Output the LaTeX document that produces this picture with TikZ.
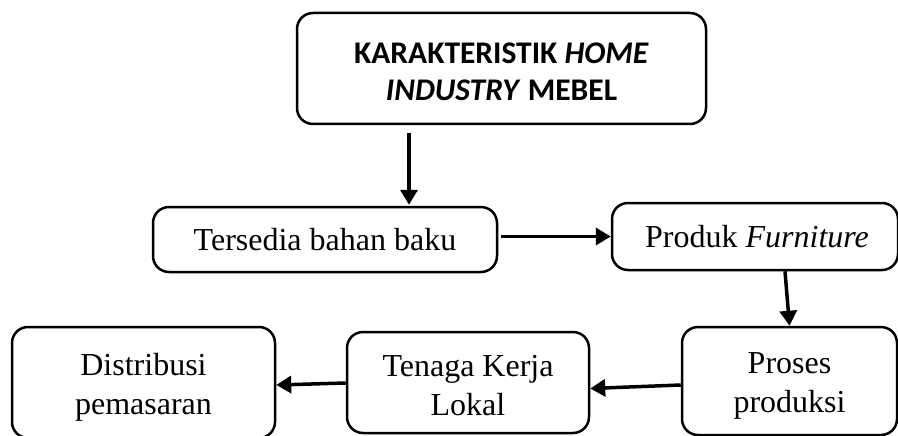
\documentclass[tikz,border=0pt]{standalone}
\usepackage{fontspec}
\setmainfont{Liberation Serif}
\newfontfamily\carlito{Carlito}
\usetikzlibrary{arrows.meta}
\begin{document}
\begin{tikzpicture}[x=1pt,y=-1pt,
  boxstyle/.style={draw=black,line width=2.5pt,rounded corners=16pt,inner sep=0pt},
  txt/.style={align=center,inner sep=0pt,font=\fontsize{32}{38.5}\selectfont},
  arr/.style={line width=3.5pt,-{Triangle[length=15pt,width=17pt]}}]
\useasboundingbox (0,0) rectangle (898,436);
\begin{scope}
\clip (0,0) rectangle (898,436);
\node[boxstyle,minimum width=409pt,minimum height=111pt] (top) at (501.5,68.5) {};
\node[boxstyle,minimum width=344pt,minimum height=65pt] (b2) at (325,239.5) {};
\node[boxstyle,minimum width=286pt,minimum height=67pt] (b3) at (755,236.5) {};
\node[boxstyle,minimum width=215pt,minimum height=108pt] (b4) at (789.5,381) {};
\node[boxstyle,minimum width=242pt,minimum height=101pt] (tk) at (468,382.5) {};
\node[boxstyle,minimum width=263pt,minimum height=111pt] (ds) at (143.5,382.5) {};
\end{scope}
\node[txt,font=\carlito\bfseries\fontsize{31.5}{37}\selectfont] (toptxt) at ([yshift=-3pt]top.center)
  {KARAKTERISTIK \textit{HOME}\\\textit{INDUSTRY} MEBEL};
\node[txt] (b2txt) at (b2.center) {Tersedia bahan baku};
\node[txt] (b3txt) at ([xshift=2pt]b3.center) {Produk \textit{Furniture}};
\node[txt] (b4txt) at ([yshift=-5pt]b4.center) {Proses\\produksi};
\node[txt] (tktxt) at ([yshift=-3pt]tk.center) {Tenaga Kerja\\Lokal};
\node[txt] (dstxt) at ([yshift=-5pt]ds.center) {Distribusi\\pemasaran};
\draw[arr] ([xshift=-92.5pt,yshift=-8pt]top.south) -- ([xshift=84pt,yshift=1pt]b2.north);
\draw[arr] ([xshift=3pt,yshift=3pt]b2.east) -- (b3.west);
\draw[arr] ([xshift=30pt]b3.south) -- (b4.north);
\draw[arr] ([yshift=-4pt]b4.west) -- ([yshift=-6pt]tk.east);
\draw[arr] ([yshift=-0.5pt]tk.west) -- ([yshift=-2.5pt]ds.east);
\end{tikzpicture}
\end{document}
